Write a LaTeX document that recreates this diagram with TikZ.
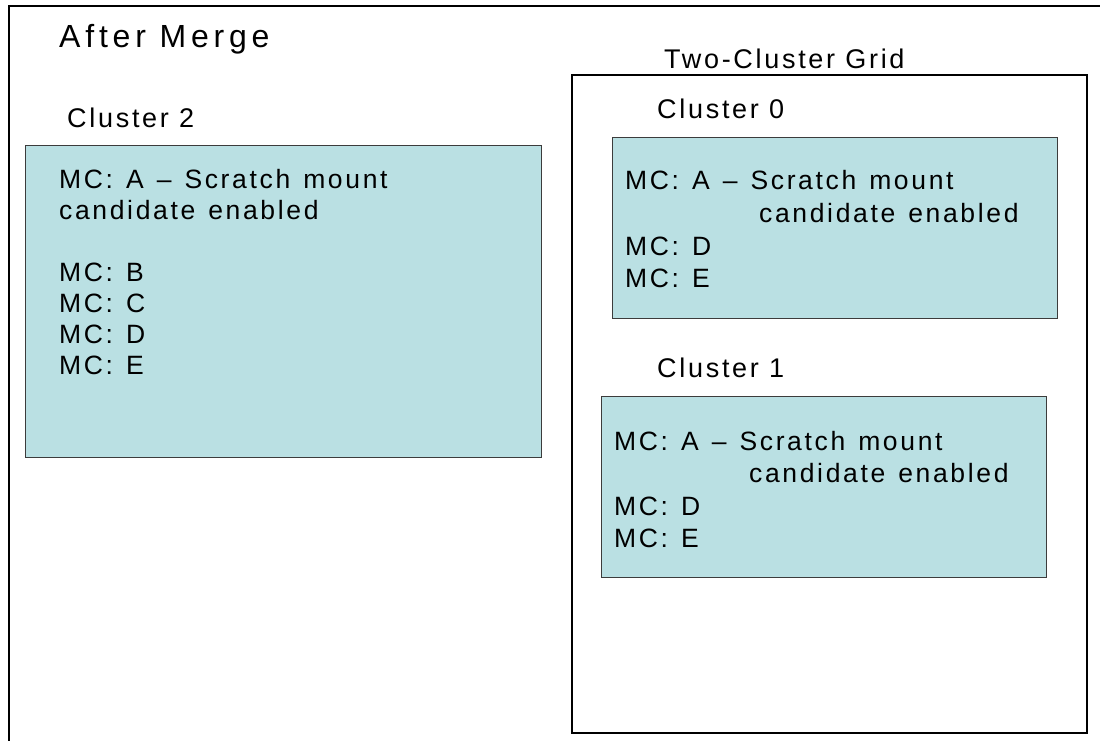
\documentclass[tikz,border=0pt]{standalone}
\usepackage{fontspec}
\setmainfont{Liberation Sans}[LetterSpace=10]
\newfontfamily\titlefont{Liberation Sans}[LetterSpace=15]
\newfontfamily\boxfont{Liberation Sans}[LetterSpace=10,WordSpace=1.3]
\definecolor{clfill}{RGB}{186,224,227}
\definecolor{clline}{RGB}{60,60,60}
\begin{document}
\begin{tikzpicture}[x=1pt,y=-1pt,
  frame/.style={draw=black,line width=1.5pt,anchor=north west,inner sep=0pt,outer sep=0pt},
  gridbox/.style={draw=black,line width=1.2pt,anchor=north west,inner sep=0pt,outer sep=0pt},
  clbox/.style={draw=clline,fill=clfill,line width=1pt,anchor=north west,inner sep=0pt,outer sep=0pt},
  lbl/.style={anchor=base west,inner sep=0pt,font=\fontsize{27}{32}\selectfont},
  txt/.style={anchor=base west,inner sep=0pt,font=\boxfont\fontsize{26.5}{32}\selectfont},
  ttl/.style={anchor=base west,inner sep=0pt,font=\titlefont\fontsize{32}{38}\selectfont}]
\useasboundingbox (0,0) rectangle (1100,740);
\begin{scope}
\clip (0,0) rectangle (1100,740);
\node[frame,minimum width=1110pt,minimum height=750pt] (outer) at (9,6) {};
\end{scope}
\node[gridbox,minimum width=515pt,minimum height=658pt] (grid) at (572,75) {};
\node[clbox,minimum width=516pt,minimum height=312pt] (c2) at (25,145) {};
\node[clbox,minimum width=445pt,minimum height=181pt] (c0) at (612,137) {};
\node[clbox,minimum width=445pt,minimum height=181pt] (c1) at (601,396) {};

\node[ttl] (title) at (59,47) {After Merge};
\node[lbl] (l2) at (67,127) {Cluster 2};
\node[lbl] (lg) at (664,68) {Two-Cluster Grid};
\node[lbl] (l0) at (657,118) {Cluster 0};
\node[lbl] (l1) at (657,377) {Cluster 1};

\node[txt] (c2a) at (59,188) {MC: A – Scratch mount};
\node[txt] (c2b) at (59,219) {candidate enabled};
\node[txt] (c2c) at (59,281) {MC: B};
\node[txt] (c2d) at (59,312) {MC: C};
\node[txt] (c2e) at (59,343) {MC: D};
\node[txt] (c2f) at (59,374) {MC: E};

\node[txt] (c0a) at (625,189) {MC: A – Scratch mount};
\node[txt] (c0b) at (759,222) {candidate enabled};
\node[txt] (c0c) at (625,255) {MC: D};
\node[txt] (c0d) at (625,287) {MC: E};

\node[txt] (c1a) at (614,450) {MC: A – Scratch mount};
\node[txt] (c1b) at (749,482) {candidate enabled};
\node[txt] (c1c) at (614,515) {MC: D};
\node[txt] (c1d) at (614,547) {MC: E};
\end{tikzpicture}
\end{document}
